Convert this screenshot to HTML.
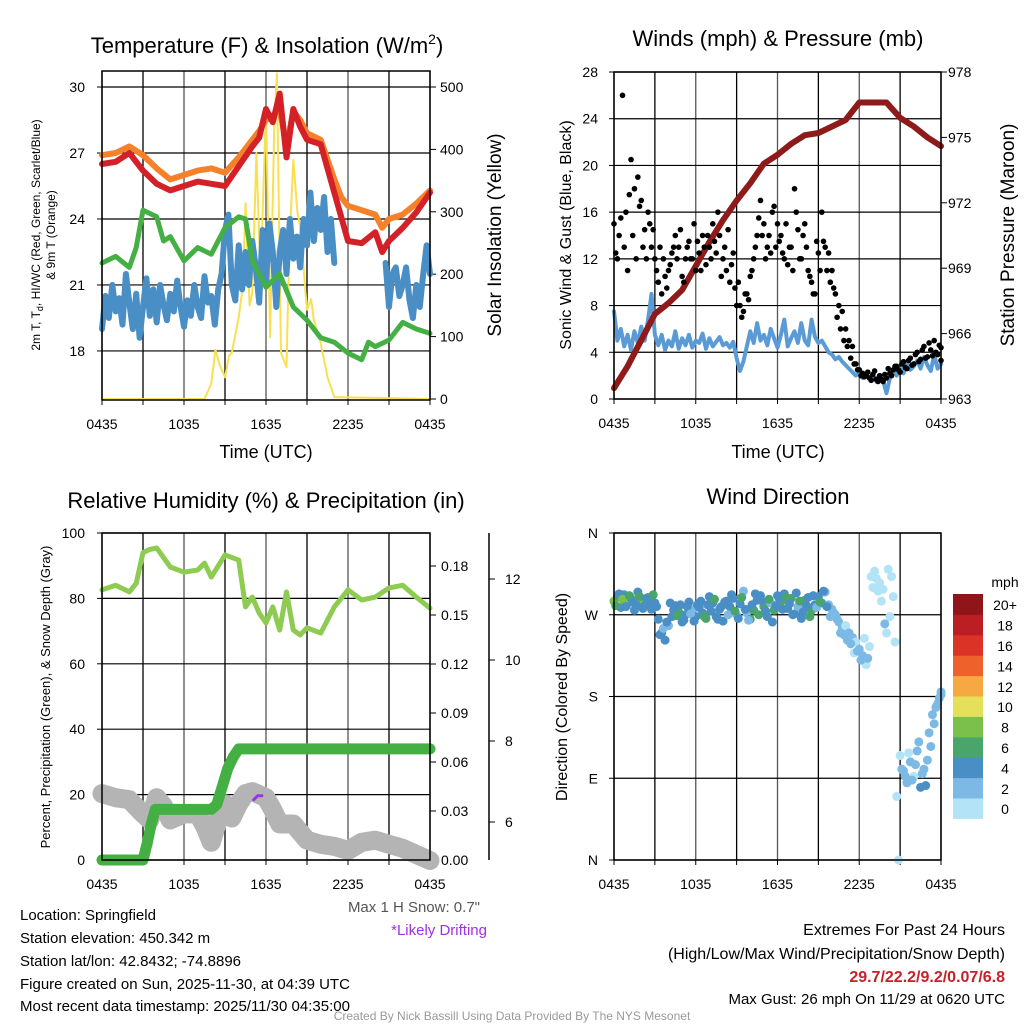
<!DOCTYPE html>
<html><head><meta charset="utf-8"><title>Station Meteogram</title>
<style>
html,body{margin:0;padding:0;background:#fff;}
svg{display:block;font-family:"Liberation Sans",Arial,sans-serif;}
</style></head>
<body>
<svg id="fig" width="1024" height="1024" viewBox="0 0 1024 1024" xmlns="http://www.w3.org/2000/svg">
<rect x="0" y="0" width="1024" height="1024" fill="#fff"/>
<text x="267" y="53" font-size="22" text-anchor="middle">Temperature (F) &amp; Insolation (W/m<tspan dy="-9" font-size="14">2</tspan><tspan dy="9">)</tspan></text>
<text x="778" y="46" font-size="22" text-anchor="middle">Winds (mph) &amp; Pressure (mb)</text>
<text x="266" y="508" font-size="22" text-anchor="middle">Relative Humidity (%) &amp; Precipitation (in)</text>
<text x="778" y="504" font-size="22" text-anchor="middle">Wind Direction</text>
<text x="266" y="458" font-size="18" text-anchor="middle">Time (UTC)</text>
<text x="778" y="458" font-size="18" text-anchor="middle">Time (UTC)</text>
<text transform="translate(40,235) rotate(-90)" font-size="12" text-anchor="middle">2m T, T<tspan dy="3" font-size="9">d</tspan><tspan dy="-3">, HI/WC (Red, Green, Scarlet/Blue)</tspan></text>
<text transform="translate(55,235) rotate(-90)" font-size="12" text-anchor="middle">&amp; 9m T (Orange)</text>
<text transform="translate(501,235) rotate(-90)" font-size="19" text-anchor="middle">Solar Insolation (Yellow)</text>
<text transform="translate(571,235) rotate(-90)" font-size="16" text-anchor="middle">Sonic Wind &amp; Gust (Blue, Black)</text>
<text transform="translate(1014,235) rotate(-90)" font-size="19" text-anchor="middle">Station Pressure (Maroon)</text>
<text transform="translate(50,697) rotate(-90)" font-size="13" text-anchor="middle">Percent, Precipitation (Green), &amp; Snow Depth (Gray)</text>
<text transform="translate(567,697) rotate(-90)" font-size="16" text-anchor="middle">Direction (Colored By Speed)</text>
<text x="1005" y="587" font-size="14" text-anchor="middle">mph</text>
<g font-size="15">
<text x="20" y="920">Location: Springfield</text>
<text x="20" y="943">Station elevation: 450.342 m</text>
<text x="20" y="966">Station lat/lon: 42.8432; -74.8896</text>
<text x="20" y="989">Figure created on Sun, 2025-11-30, at 04:39 UTC</text>
<text x="20" y="1011">Most recent data timestamp: 2025/11/30 04:35:00</text>
</g>
<text x="480" y="912" font-size="15" fill="#555" text-anchor="end">Max 1 H Snow: 0.7"</text>
<text x="487" y="935" font-size="15" fill="#a030e8" text-anchor="end">*Likely Drifting</text>
<text x="1005" y="935" font-size="16" text-anchor="end">Extremes For Past 24 Hours</text>
<text x="1005" y="959" font-size="16" text-anchor="end">(High/Low/Max Wind/Precipitation/Snow Depth)</text>
<text x="1005" y="982" font-size="16" font-weight="bold" fill="#c8202a" text-anchor="end">29.7/22.2/9.2/0.07/6.8</text>
<text x="1005" y="1004" font-size="15" text-anchor="end">Max Gust: 26 mph On 11/29 at 0620 UTC</text>
<text x="512" y="1020" font-size="12" fill="#999" text-anchor="middle">Created By Nick Bassill Using Data Provided By The NYS Mesonet</text>
</svg>
<script>
const xTickLabels = ["0435","1035","1635","2235","0435"];
const tempHours = [0,1,2,3,4,5,6,7,8,9,10,11,11.5,12,12.5,13,13.5,14,14.5,15,16,17,17.5,18,19,20,20.5,21,22,23,24];
const tempRed   = [26.5,26.6,27.0,26.2,25.6,25.3,25.5,25.7,25.6,25.5,26.4,27.3,27.7,29.0,28.4,29.7,26.8,29.0,28.2,27.6,27.4,25.2,24.1,23.0,22.9,23.4,22.5,23.0,23.6,24.3,25.2];
const tempOrange= [26.9,27.0,27.3,26.9,26.3,25.8,26.0,26.2,26.3,26.1,26.8,27.6,28.0,28.5,28.7,29.0,27.3,28.9,28.5,27.9,27.6,25.8,25.0,24.6,24.4,24.2,23.6,24.0,24.2,24.7,25.3];
const dewHours  = [0,1,2,2.5,3,4,4.5,5,6,7,8,9,10,10.5,11,12,12.5,13,14,15,16,17,18,19,19.5,20,21,22,23,24];
const dewGreen  = [22.0,22.3,21.8,22.7,24.4,24.1,23.0,23.2,22.1,22.7,22.4,23.6,24.1,24.0,22.1,20.9,21.2,21.5,20.0,19.4,18.6,18.4,17.9,17.6,18.4,18.2,18.5,19.3,19.0,18.8];
const windChill = [19.0,20.5,19.5,21,19.8,20.4,19.2,21.5,20.2,19.0,20.6,18.6,20.0,
 21.3,19.6,20.8,19.3,21.0,20.1,19.4,20.6,19.8,21.2,20.0,19.1,
 20.3,19.6,21.0,20.0,19.5,21.4,20.2,20.5,19.2,20.8,21.5,23.5,
 24.2,21.0,20.3,22.8,20.8,22.5,21.0,23.0,21.8,20.2,23.5,21.0,
 23.8,22.5,20.0,22.5,23.5,21.5,24.0,22.2,23.2,21.8,24.0,22.8,
 25.2,23.0,24.5,23.5,25.0,22.5,24.0,22.0,
 null,null,null,null,null,null,null,null,null,null,null,null,null,null,
 22.0,20.0,21.5,21.8,20.5,21.0,21.8,20.3,19.5,21.0,20.0,21.5,22.8,21.5];
const solarHours = [0,7.5,8,8.3,8.6,9,9.3,9.5,10,10.3,10.5,10.8,11,11.3,11.6,12,12.3,12.6,12.8,13.1,13.5,13.7,14,14.3,14.5,15,15.3,15.5,16,16.5,17,24];
const solarVals  = [0,0,25,79,55,35,70,74,131,180,314,150,170,394,195,463,99,436,522,74,51,240,383,300,276,143,160,127,90,35,3,0];
const tempTicks = [30,27,24,21,18];
const solarTicks = [0,100,200,300,400,500];
const pressHours = [0,1,2,3,4,5,6,7,8,9,10,11,12,13,14,15,16,17,18,19,20,21,22,23,24];
const pressVals  = [963.5,964.5,965.7,966.9,967.4,968.0,969.1,970.2,971.2,972.1,972.9,973.8,974.2,974.7,975.1,975.2,975.5,975.8,976.6,976.6,976.6,975.9,975.5,975.0,974.6];
const windSpeed = [7.5,5,6,4.5,5.5,4.2,5.8,4.8,6.2,5,6.8,9,5.5,
 4.6,5.5,4.2,5.0,4.5,5.8,4.3,5.2,4.6,5.5,4.4,5.0,
 4.8,5.6,4.3,5.2,4.5,4.9,5.3,4.6,4.8,4.4,4.9,3.5,
 2.4,3.2,4.5,5.8,4.8,6.5,5.0,5.5,4.6,6.0,5.2,4.4,
 5.5,6.8,4.5,5.2,5.8,4.8,6.5,5.0,4.6,6.8,5.3,4.8,
 5.0,4.5,4.0,3.8,3.4,3.6,3.2,2.9,
 2.6,2.3,2.0,2.2,1.8,2.1,1.7,2.0,1.5,1.9,1.6,0.5,1.8,2.4,
 2.0,2.6,2.2,3.0,2.5,2.8,3.3,2.6,3.6,2.9,2.4,3.8,2.6,3.0];
const gustA = [15,12,15.5,13,11,20.5,18,19,17,14.5,16,13,12,
 10,9,10.5,11,12.5,14,13,10.5,12,13.5,12,11,
 12.5,14,11.5,13,15,12.5,14,12,11,10,12.5,8,
 8,7.5,9,10.5,12,14,17,15,13,12.5,16.5,15,
 14,12,11.5,13,18,14.5,12,15,11,10,9,12.5,
 16,13,12.5,11,9,8,7.5,6,
 5,4.5,3,2.5,2.2,2,1.8,2.1,1.7,2,1.5,1.8,2.2,2.5,
 2.8,2.3,3.2,2.6,3.5,3,4,3.4,4.5,3.6,4.2,5,3.8,4.4];
const gustB = [12.5,14,26,16,17.5,14,12,16.5,13,12,15,14.5,11,
 13,12,9.5,11.5,13,12,14.5,10,13,12,15,13.5,
 11,13,14,12,13.5,16,10.5,13,14.5,11.5,9.5,10,
 7,9,8.5,11,13,15.5,14,12,14,16,13,13.5,
 12.5,15,13,11,16,12,14,13,10.5,9,13.5,11,
 13.5,11,10,9.5,7,6,5,4.5,
 3.5,3,2.5,2,1.9,2.3,1.6,2.4,1.5,1.7,2.1,2.6,2,2.8,
 2.5,3,2.7,3.3,2.9,3.8,3.2,4.2,3.5,4.8,3.7,4,4.6,3.3];
const windTicks = [0,4,8,12,16,20,24,28];
const pressTicks = [963,966,969,972,975,978];
const rhHours = [0,1,2,2.5,3,3.5,4,5,6,7,7.5,8,9,10,10.5,11,11.5,12,12.5,13,13.5,14,14.5,15,16,17,18,19,20,21,22,23,24];
const rhVals  = [82.6,84,82,84.6,94,95,95.4,89.6,88,88.7,90.8,86.5,93.3,91.7,77.4,80.4,75.5,72.5,77.4,70.3,82,70.3,68.8,71,69.4,77.4,82.6,79.5,80.4,83.2,84,80.4,77];
const precipHours = [0,3,3.3,3.6,3.9,8,8.4,8.8,9.2,9.6,10,24];
const precipVals  = [0,0,0.01,0.022,0.031,0.031,0.034,0.045,0.056,0.063,0.068,0.068];
const snowHours = [0,1,2,3,3.5,4,4.5,5,6,7,7.5,8,8.5,9,9.5,10,10.5,11,12,12.5,13,14,15,16,17,18,19,20,21,22,23,24];
const snowVals  = [6.7,6.6,6.55,6.2,6.05,6.6,6.4,6.05,6.2,6.2,5.9,5.5,6.05,6.45,6.1,6.45,6.7,6.75,6.6,6.3,5.95,5.95,5.55,5.45,5.4,5.3,5.5,5.55,5.45,5.35,5.2,5.05];
const driftHours = [11.1,11.4,11.7];
const driftVals  = [6.55,6.65,6.65];
const rhTicks = [0,20,40,60,80,100];
const precipTicks = [0,0.03,0.06,0.09,0.12,0.15,0.18];
const precipTickLabels = ["0.00","0.03","0.06","0.09","0.12","0.15","0.18"];
const snowTicks = [6,8,10,12];
const dirA = [285,290,278,292,282,288,275,295,286,280,289,276,283,
 265,250,242,258,268,280,273,262,270,284,276,268,
 278,272,266,290,283,268,276,263,285,279,288,270,
 282,296,272,265,275,286,291,279,268,283,275,291,
 284,293,277,288,271,279,266,286,289,275,281,290,
 283,295,281,276,270,262,255,258,
 250,245,240,232,225,215,235,300,310,305,298,250,268,290,
 70,115,98,85,108,92,120,80,100,110,125,150,172,185];
const spdA = [8.5,6.5,5,5,8.5,6.5,5,5,8,5,6.5,5,5,
 5,4.5,5,3,5,5,6.5,5,5,5,3,5,
 5,5,6.5,5,5,5,5,5,5,5,5,3,
 5,3,3,6.5,6.5,5,5,6.5,5,3,6.5,5,
 6.5,5,5,6.5,5,3,5,6.5,5,6.5,5,5,
 5,3,3,3,3,3,3,1,
 3,3,1,3,3,1,1,1,1,1,1,1,1,1,
 1,1,3,3,3,1,3,5,3,3,3,3,3,3];
const dirB = [280,293,287,279,291,284,281,290,277,288,283,292,279,
 248,255,262,283,275,269,281,264,279,271,263,281,
 285,268,281,274,287,265,279,284,270,292,274,266,
 289,276,264,281,293,270,285,274,287,262,280,288,
 276,289,282,270,294,285,273,280,268,291,278,284,
 296,279,268,272,265,250,248,242,
 238,228,230,220,244,222,312,318,296,285,260,320,312,240,
 0,100,92,118,88,105,130,95,82,140,160,168,178,182];
const spdB = [6.5,5,8.5,5,6.5,5,5,6.5,5,5,5,6.5,5,
 5,3,5,5,5,6.5,5,5,5,3,5,5,
 5,6.5,5,5,6.5,5,5,5,3,5,6.5,5,
 6.5,5,3,5,5,6.5,5,5,6.5,5,5,5,
 5,6.5,5,5,5,6.5,5,5,6.5,5,3,6.5,
 5,5,3,3,3,3,3,3,
 3,1,3,3,1,3,1,1,1,1,3,1,1,1,
 1,3,3,1,3,3,3,3,5,3,3,3,3,3];
const dirTicks = [0,90,180,270,360];
const dirTickLabels = ["N","E","S","W","N"];
const cbLabels = ["0","2","4","6","8","10","12","14","16","18","20+"];
const cbColors = ["#b3e3f7","#7db9e5","#4a8ec6","#4aa56b","#7bc04a","#e5e05a","#f6a843","#ef612a","#dc3328","#bb1f24","#8f1519"];

const NS = "http://www.w3.org/2000/svg";
const svg = document.getElementById('fig');
function mk(tag, attrs, parent){
  const e = document.createElementNS(NS, tag);
  for (const k in attrs) e.setAttribute(k, attrs[k]);
  (parent || svg).appendChild(e);
  return e;
}
function linScale(d0,d1,r0,r1){ return v => r0 + (v-d0)/(d1-d0)*(r1-r0); }
function pathD(xs, ys, fx, fy){
  let d = "", pen = false;
  for (let i=0;i<xs.length;i++){
    if (ys[i]===null || ys[i]===undefined){ pen=false; continue; }
    d += (pen?"L":"M") + fx(xs[i]).toFixed(1) + "," + fy(ys[i]).toFixed(1);
    pen = true;
  }
  return d;
}
const q = n => Array.from({length:n},(_,i)=>i*24/(n-1));

const panels = [
  {k:'temp', x0:102,x1:430,y0:71,y1:400},
  {k:'wind', x0:614,x1:941,y0:72,y1:399},
  {k:'rh',   x0:102,x1:430,y0:533,y1:860},
  {k:'dir',  x0:614,x1:941,y0:533,y1:860}
];

function frame(p, hGridYs){
  const g = mk('g', {});
  
  
  const fx = linScale(0,24,p.x0,p.x1);
  for (let i=0;i<=8;i++){
    const x = fx(i*3);
    const l = mk('line',{x1:x,y1:p.y0,x2:x,y2:p.y1,stroke:(i%2? '#000':'#555'),'stroke-width':1.3},g);
    
    
    const t = mk('line',{x1:x,y1:p.y1,x2:x,y2:p.y1+5,stroke:'#000','stroke-width':1},g);
    
    
  }
  for (const y of hGridYs){
    const l = mk('line',{x1:p.x0,y1:y,x2:p.x1,y2:y,stroke:'#000','stroke-width':1.2},g);
    
    
  }
  xTickLabels.forEach((s,i)=>{
    const t = mk('text',{x:fx(i*6),y:p.y1+29,'font-size':14,'text-anchor':'middle'},g);
    t.textContent = s;
    
    
  });
  const box = mk('rect',{x:p.x0,y:p.y0,width:p.x1-p.x0,height:p.y1-p.y0,fill:'none',stroke:'#000','stroke-width':1.5});
  
  
  return {g, fx, box};
}
function yTicks(g, ticks, labels, fy, x, anchor, name, tickX1, tickX2){
  ticks.forEach((v,i)=>{
    const y = fy(v);
    const tk = mk('line',{x1:tickX1,y1:y,x2:tickX2,y2:y,stroke:'#000','stroke-width':1},g);
    
    
    const t = mk('text',{x:x,y:y+5,'font-size':14,'text-anchor':anchor},g);
    t.textContent = labels ? labels[i] : String(v);
    
    
  });
}

(function(){
  const p = panels[0];
  const fyT = linScale(30,15.77,87,400);
  const fyS = linScale(0,500,399,87);
  const F = frame(p, tempTicks.map(fyT));
  const g = F.g;
  yTicks(g, tempTicks, null, fyT, 85, 'end', 'temp-y', p.x0-5, p.x0);
  yTicks(g, solarTicks, null, fyS, 440, 'start', 'solar-y', p.x1, p.x1+6);
  const sol = mk('path',{d:pathD(solarHours,solarVals,F.fx,fyS),fill:'none',stroke:'#f8e050','stroke-width':2,'stroke-linejoin':'round'},g);
  
  
  const wc = mk('path',{d:pathD(q(windChill.length),windChill,F.fx,fyT),fill:'none',stroke:'#4a8ec6','stroke-width':6,'stroke-linejoin':'round','stroke-linecap':'round'},g);
  
  
  const dg = mk('path',{d:pathD(dewHours,dewGreen,F.fx,fyT),fill:'none',stroke:'#44b044','stroke-width':5,'stroke-linejoin':'round','stroke-linecap':'round'},g);
  
  
  const or = mk('path',{d:pathD(tempHours,tempOrange,F.fx,fyT),fill:'none',stroke:'#f5822a','stroke-width':6,'stroke-linejoin':'round','stroke-linecap':'round'},g);
  
  
  const rd = mk('path',{d:pathD(tempHours,tempRed,F.fx,fyT),fill:'none',stroke:'#d42128','stroke-width':6,'stroke-linejoin':'round','stroke-linecap':'round'},g);
  
  
  svg.appendChild(F.box);
})();

(function(){
  const p = panels[1];
  const fyW = linScale(0,28,399,72);
  const fyP = linScale(963,978,399,72);
  const F = frame(p, windTicks.map(fyW));
  const g = F.g;
  yTicks(g, windTicks, null, fyW, 598, 'end', 'wind-y', p.x0-5, p.x0);
  yTicks(g, pressTicks, null, fyP, 948, 'start', 'pressure-y', p.x1, p.x1+6);
  const ws = mk('path',{d:pathD(q(windSpeed.length),windSpeed,F.fx,fyW),fill:'none',stroke:'#5a9bd5','stroke-width':4,'stroke-linejoin':'round','stroke-linecap':'round'},g);
  
  
  const pr = mk('path',{d:pathD(pressHours,pressVals,F.fx,fyP),fill:'none',stroke:'#8f1a1a','stroke-width':6,'stroke-linejoin':'round','stroke-linecap':'round'},g);
  
  
  const hA = q(gustA.length);
  gustA.forEach((v,i)=>{
    const c = mk('circle',{cx:F.fx(hA[i]),cy:fyW(v),r:2.8,fill:'#000'},g);
    
    
  });
  gustB.forEach((v,i)=>{
    const h = Math.min(24, hA[i]+0.125);
    const c = mk('circle',{cx:F.fx(h),cy:fyW(v),r:2.8,fill:'#000'},g);
    
    
  });
  svg.appendChild(F.box);
})();

(function(){
  const p = panels[2];
  const fyR = linScale(0,100,860,533);
  const fyPr = linScale(0,0.18,860,566);
  const fySn = linScale(6,8,822,741);
  const F = frame(p, rhTicks.map(fyR));
  const g = F.g;
  yTicks(g, rhTicks, null, fyR, 85, 'end', 'rh-y', p.x0-5, p.x0);
  yTicks(g, precipTicks, precipTickLabels, fyPr, 441, 'start', 'precip-y', p.x1, p.x1+6);
  const ax = mk('line',{x1:489,y1:533,x2:489,y2:860,stroke:'#000','stroke-width':1.5},g);
  
  
  yTicks(g, snowTicks, null, fySn, 505, 'start', 'snow-y', 489, 495);
  const sn = mk('path',{d:pathD(snowHours,snowVals,F.fx,fySn),fill:'none',stroke:'#b4b4b4','stroke-width':19,'stroke-linejoin':'round','stroke-linecap':'round'},g);
  
  
  const dr = mk('path',{d:pathD(driftHours,driftVals,F.fx,fySn),fill:'none',stroke:'#a030e8','stroke-width':3,'stroke-linecap':'round'},g);
  
  
  const pc = mk('path',{d:pathD(precipHours,precipVals,F.fx,fyPr),fill:'none',stroke:'#44b044','stroke-width':11,'stroke-linejoin':'round','stroke-linecap':'round'},g);
  
  
  const rh = mk('path',{d:pathD(rhHours,rhVals,F.fx,fyR),fill:'none',stroke:'#8dcc50','stroke-width':5,'stroke-linejoin':'round','stroke-linecap':'round'},g);
  
  
  svg.appendChild(F.box);
})();

(function(){
  const p = panels[3];
  const fyD = linScale(0,360,860,533);
  const F = frame(p, dirTicks.map(fyD));
  const g = F.g;
  yTicks(g, dirTicks, dirTickLabels, fyD, 598, 'end', 'dir-y', p.x0-5, p.x0);
  const col = s => cbColors[Math.min(10, Math.floor(s/2))];
  const hA = q(dirA.length);
  dirA.forEach((v,i)=>{
    const c = mk('circle',{cx:F.fx(hA[i]),cy:fyD(v),r:4.5,fill:col(spdA[i])},g);
    
    
  });
  dirB.forEach((v,i)=>{
    const c = mk('circle',{cx:F.fx(Math.min(24,hA[i]+0.125)),cy:fyD(v),r:4.5,fill:col(spdB[i])},g);
    
    
  });
  svg.appendChild(F.box);
  const cb = mk('g',{});
  
  
  const top = 594, h = 20.4;
  cbColors.forEach((c,i)=>{
    const y = top + (10-i)*h;
    const r = mk('rect',{x:953,y:y,width:30,height:h+0.5,fill:c},cb);
    
    
    const t = mk('text',{x:1005,y:y+h/2+6,'font-size':14,'text-anchor':'middle'},cb);
    t.textContent = cbLabels[i];
    
    
  });
})();
</script>
</body></html>
